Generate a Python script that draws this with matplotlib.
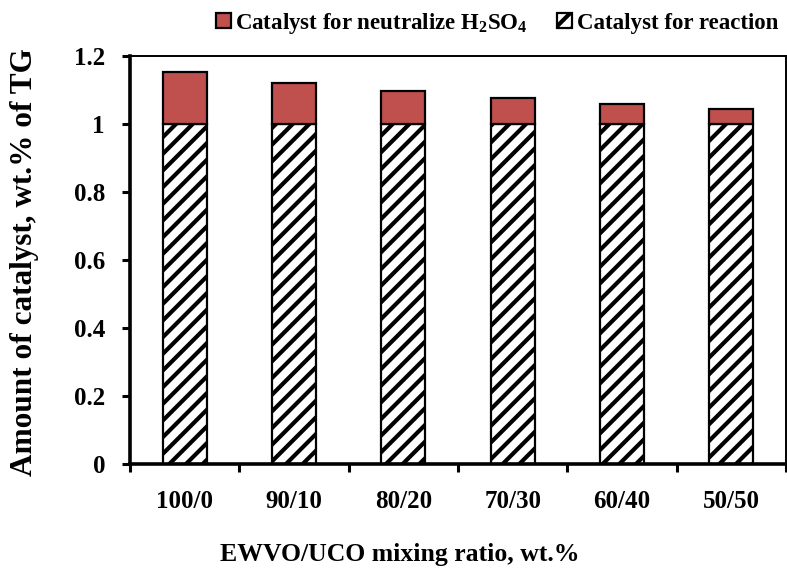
import matplotlib
matplotlib.use("Agg")
import matplotlib.pyplot as plt
import numpy as np

ratios = ["100/0", "90/10", "80/20", "70/30", "60/40", "50/50"]
reaction = [1.0, 1.0, 1.0, 1.0, 1.0, 1.0]
neutralize = [0.153, 0.121, 0.097, 0.076, 0.059, 0.045]
yticks = [0, 0.2, 0.4, 0.6, 0.8, 1, 1.2]
ytick_labels = ["0", "0.2", "0.4", "0.6", "0.8", "1", "1.2"]

plt.rcParams["font.family"] = ["Liberation Serif", "DejaVu Serif"]
plt.rcParams["font.weight"] = "bold"
plt.rcParams["mathtext.fontset"] = "custom"
plt.rcParams["mathtext.rm"] = "Liberation Serif:bold"
plt.rcParams["mathtext.bf"] = "Liberation Serif:bold"
plt.rcParams["mathtext.default"] = "bf"
plt.rcParams["hatch.linewidth"] = 3.0
plt.rcParams["hatch.color"] = "black"

fig = plt.figure(figsize=(7.87, 5.69), dpi=100)
ax = fig.add_axes([130 / 787, 1 - 464 / 569, 656 / 787, 408 / 569])

x = np.arange(len(ratios))
w = 0.4
b1 = ax.bar(x, reaction, w, color="white", edgecolor="black", linewidth=1.6,
            hatch="//", label="Catalyst for reaction", zorder=2)
b2 = ax.bar(x, neutralize, w, bottom=reaction, color="#C0504D", edgecolor="black",
            linewidth=1.6, label="Catalyst for neutralize H$_{2}$SO$_{4}$", zorder=2)

ax.set_xlim(-0.5, len(ratios) - 0.5)
ax.set_ylim(0, 1.2)
ax.set_yticks(yticks)
ax.set_yticklabels(ytick_labels, fontsize=18, fontweight="bold")
ax.set_xticks(x)
ax.set_xticklabels(ratios, fontsize=18, fontweight="bold")
ax.tick_params(axis="x", length=0, pad=19)
ax.set_xticks(np.arange(-0.5, len(ratios) + 0.5, 1), minor=True)
ax.tick_params(axis="x", which="minor", length=6, width=2.2, direction="out")
ax.tick_params(axis="y", length=6, width=2.2, direction="out", pad=12)

for s in ["left", "bottom"]:
    ax.spines[s].set_linewidth(2.6)
for s in ["top", "right"]:
    ax.spines[s].set_linewidth(1.4)

ax.set_ylabel("Amount of catalyst, wt.% of TG", fontsize=22.5, fontweight="bold")
ax.yaxis.set_label_coords(-105 / 656, (464 - 262) / 408)
ax.set_xlabel("EWVO/UCO mixing ratio, wt.%", fontsize=18.5, fontweight="bold")
ax.xaxis.set_label_coords((400 - 130) / 656, -(554 - 464) / 408)
ax.xaxis.label.set_va("center")
ax.yaxis.label.set_va("center")

leg = fig.legend(handles=[b2, b1], loc="center", bbox_to_anchor=(497 / 787, 1 - 23 / 569),
                 ncol=2, frameon=False, fontsize=16.5, handlelength=0.65, handleheight=0.65,
                 handletextpad=0.2, columnspacing=1.3, borderaxespad=0)
for t in leg.get_texts():
    t.set_fontweight("bold")

fig.savefig("out.png", dpi=100)
